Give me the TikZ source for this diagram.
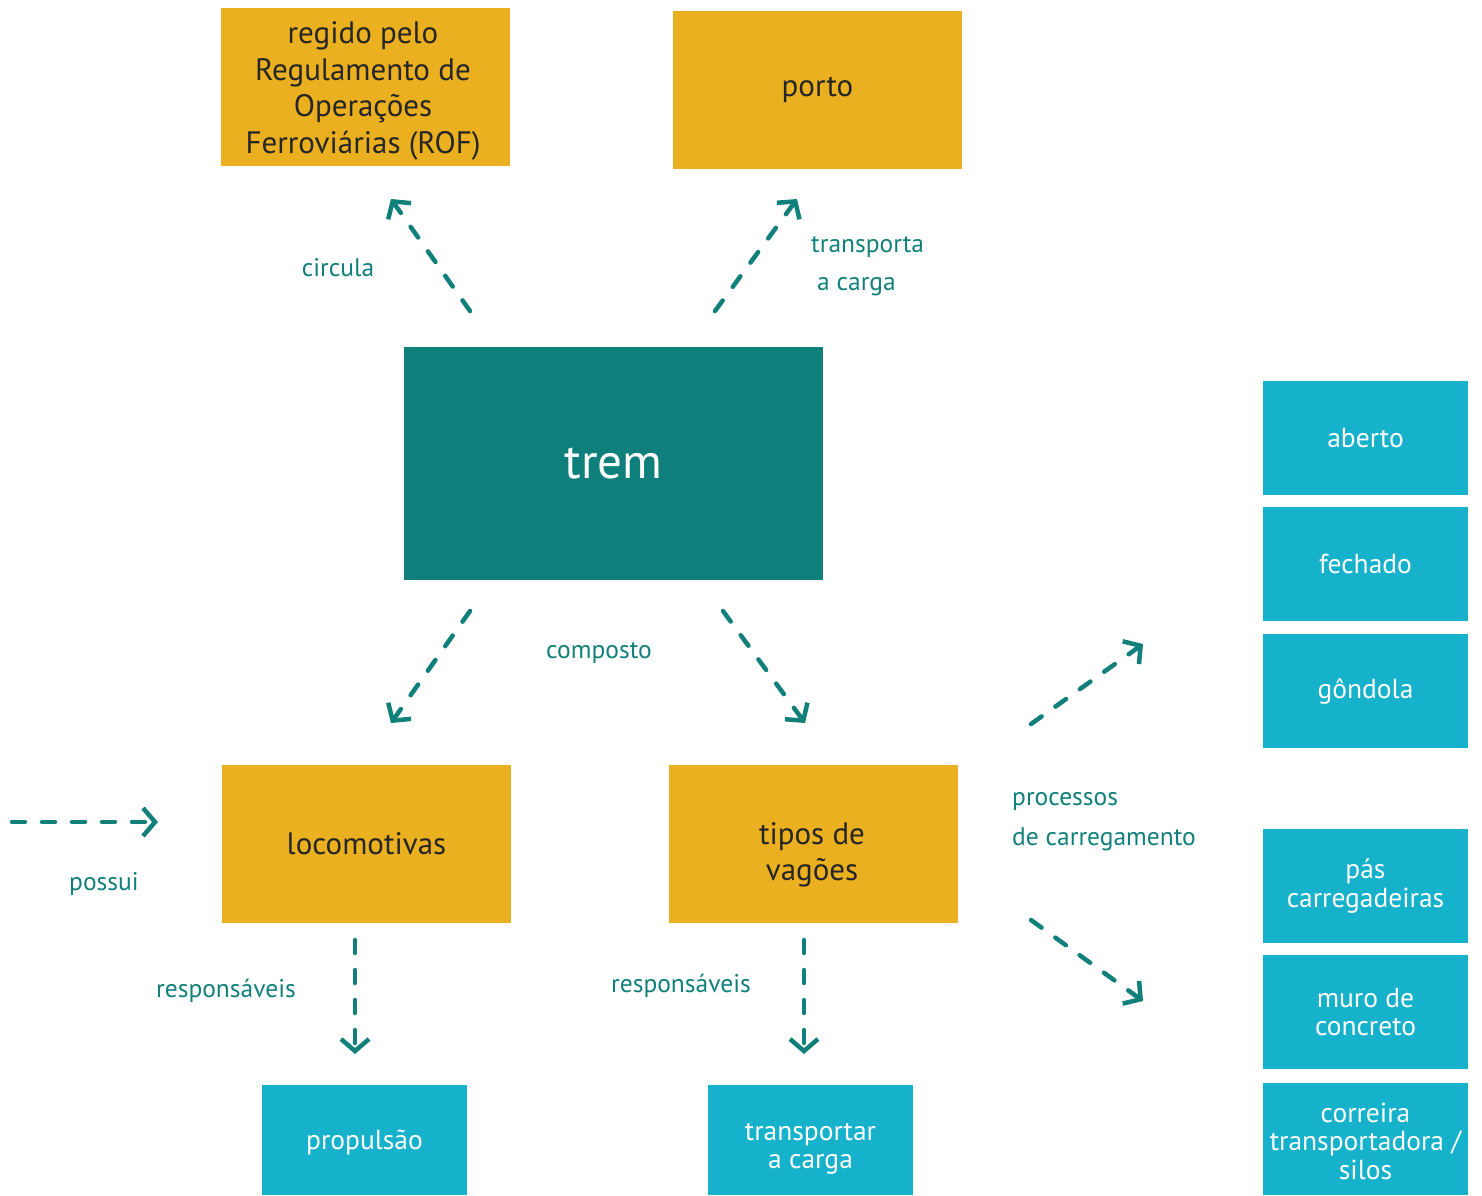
\documentclass[tikz,border=0pt]{standalone}
\usepackage{fontspec}
\setmainfont{PT Sans}
\usetikzlibrary{arrows.meta}
\definecolor{tealbox}{HTML}{0E7F7B}
\definecolor{goldbox}{HTML}{EAB020}
\definecolor{cyanbox}{HTML}{16B1CB}
\definecolor{arrowc}{HTML}{117F7A}
\tikzset{
  goldnode/.style={fill=goldbox, inner sep=0pt, align=center, text=black!85, font=\fontsize{31}{36.5}\selectfont},
  cyannode/.style={fill=cyanbox, inner sep=0pt, align=center, text=white, font=\fontsize{27.5}{28.5}\selectfont},
  cyantext/.style={inner sep=0pt, align=center, text=white, font=\fontsize{27.5}{28.5}\selectfont},
  lbl/.style={text=arrowc, font=\fontsize{25.5}{28}\selectfont, inner sep=0pt},
  darr/.style={draw=arrowc, line width=4.5pt, line cap=round, dash pattern=on 13pt off 17pt, -{Straight Barb[length=12pt, width=28pt, line width=4.5pt]}},
}
\begin{document}
\begin{tikzpicture}[x=1pt, y=-1pt]
\useasboundingbox (0,0) rectangle (1482,1195);
% boxes
\node[goldnode, minimum width=289pt, minimum height=158pt] (rof) at (365.5,87) {};
\node[goldnode, align=center] (roft) at (363,91) {regido pelo\\Regulamento de\\Operações\\Ferroviárias (ROF)};
\node[goldnode, minimum width=289pt, minimum height=158pt] (porto) at (817.5,90) {porto};
\node[fill=tealbox, minimum width=419pt, minimum height=233pt, inner sep=0pt, text=white, font=\fontsize{49}{52}\selectfont] (trem) at (613.5,463.5) {trem};
\node[goldnode, minimum width=289pt, minimum height=158pt] (loco) at (366.5,844) {locomotivas};
\node[goldnode, minimum width=289pt, minimum height=158pt] (tipos) at (813.5,844) {};
\node[goldnode] (tipost) at (812,855) {tipos de\\vagões};
\node[cyannode, minimum width=205pt, minimum height=114pt] (aberto) at (1365.5,438) {aberto};
\node[cyannode, minimum width=205pt, minimum height=114pt] (fechado) at (1365.5,564) {fechado};
\node[cyannode, minimum width=205pt, minimum height=114pt] (gondola) at (1365.5,691) {gôndola};
\node[cyannode, minimum width=205pt, minimum height=114pt] (pas) at (1365.5,886) {pás\\carregadeiras};
\node[cyannode, minimum width=205pt, minimum height=114pt] (muro) at (1365.5,1012) {muro de\\concreto};
\node[cyannode, minimum width=205pt, minimum height=112pt] (correira) at (1365.5,1139) {};
\node[cyantext] (correirat) at (1365.5,1141) {correira\\transportadora /\\silos};
\node[cyannode, minimum width=205pt, minimum height=110pt] (propulsao) at (364.5,1140) {};
\node[cyantext] (propulsaot) at (364.5,1142) {propulsão};
\node[cyannode, minimum width=205pt, minimum height=110pt] (transp) at (810.5,1140) {};
\node[cyantext] (transpt) at (810.5,1149) {transportar\\a carga};
% arrow end points
\coordinate (a1s) at (470,311); \coordinate (a1e) at (391,199);
\coordinate (a2s) at (715,311); \coordinate (a2e) at (797,199);
\coordinate (a3s) at (470,611); \coordinate (a3e) at (391,723);
\coordinate (a4s) at (723,611); \coordinate (a4e) at (805,723);
\coordinate (a5s) at (12,822); \coordinate (a5e) at (158,822);
\coordinate (a6s) at (355,940); \coordinate (a6e) at (355,1054);
\coordinate (a7s) at (804,940); \coordinate (a7e) at (804,1054);
\coordinate (a8s) at (1031,724); \coordinate (a8e) at (1143,644);
\coordinate (a9s) at (1031,920); \coordinate (a9e) at (1143,1001);
% arrows
\draw[darr] (a1s) -- (a1e);
\draw[darr] (a2s) -- (a2e);
\draw[darr] (a3s) -- (a3e);
\draw[darr] (a4s) -- (a4e);
\draw[darr] (a5s) -- (a5e);
\draw[darr] (a6s) -- (a6e);
\draw[darr] (a7s) -- (a7e);
\draw[darr] (a8s) -- (a8e);
\draw[darr] (a9s) -- (a9e);
% labels
\node[lbl] (l1) at (338,268) {circula};
\node[lbl, anchor=west] (l2) at (811,247) {transporta};
\node[lbl, anchor=west] (l2b) at (817,287) {a carga};
\node[lbl] (l3) at (599,653) {composto};
\node[lbl] (l4) at (104,884) {possui};
\node[lbl] (l5) at (226,991) {responsáveis};
\node[lbl] (l6) at (681,986) {responsáveis};
\node[lbl, anchor=west] (l7) at (1012,802) {processos};
\node[lbl, anchor=west] (l7b) at (1012,839) {de carregamento};
\end{tikzpicture}
\end{document}
